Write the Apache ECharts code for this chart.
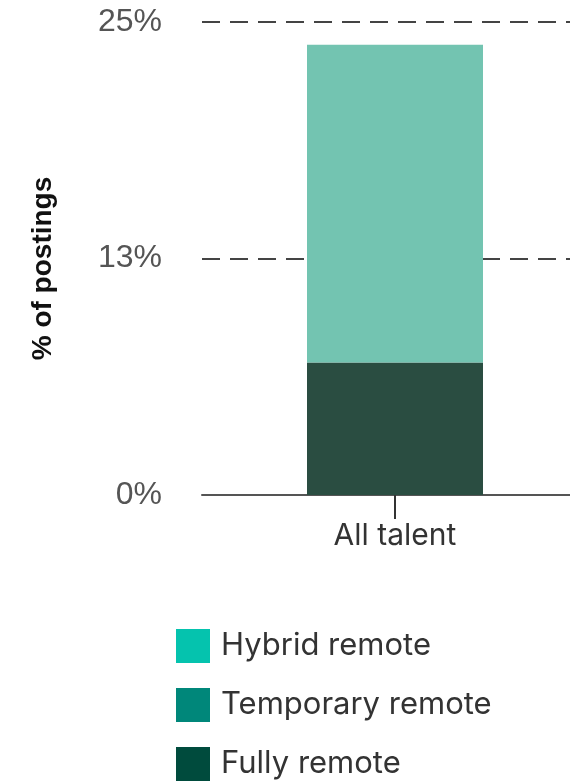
<!DOCTYPE html>
<html>
<head>
<meta charset="utf-8">
<script src="https://cdn.jsdelivr.net/npm/echarts@6/dist/echarts.min.js"></script>
<style>
  html, body { margin: 0; padding: 0; background: #fff; }
  #chart { width: 570px; height: 784px; }
</style>
</head>
<body>
<div id="chart"></div>
<script>
const categories = ['All talent'];
const seriesNames = ['Hybrid remote', 'Temporary remote', 'Fully remote'];
const fullyRemote = [7.0];
const temporaryRemote = [0];
const hybridRemote = [16.8];
const yTicks = [0, 12.5, 25];

const barColors = {
  'Hybrid remote': '#73c4b1',
  'Temporary remote': '#00877a',
  'Fully remote': '#2a4d41'
};
const legendColors = {
  'Hybrid remote': '#05c3ae',
  'Temporary remote': '#00877a',
  'Fully remote': '#004b3d'
};

const chart = echarts.init(document.getElementById('chart'));

function barSeries(name, data) {
  return {
    name: name,
    type: 'bar',
    stack: 'total',
    barWidth: 176,
    itemStyle: { color: barColors[name] },
    data: data
  };
}

chart.setOption({
  animation: false,
  grid: {
    left: 202,
    right: -18,
    top: 22,
    bottom: 784 - 495,
    outerBoundsMode: 'none',
    containLabel: false
  },
  legend: {
    orient: 'vertical',
    left: 176,
    top: 629,
    padding: 0,
    icon: 'rect',
    itemWidth: 34,
    itemHeight: 34,
    itemGap: 25,
    textStyle: {
      fontFamily: 'Inter',
      fontSize: 31,
      color: '#333',
      padding: [0, 0, 0, 6]
    },
    data: seriesNames.map(name => ({
      name: name,
      itemStyle: { color: legendColors[name] }
    }))
  },
  xAxis: {
    type: 'category',
    data: categories,
    axisLine: { lineStyle: { color: '#555', width: 2 } },
    axisTick: { show: true, alignWithLabel: true, length: 24, lineStyle: { color: '#333', width: 2 } },
    axisLabel: {
      fontFamily: 'Inter',
      fontSize: 30,
      color: '#333',
      margin: 26
    }
  },
  yAxis: {
    type: 'value',
    min: yTicks[0],
    max: yTicks[yTicks.length - 1],
    interval: yTicks[1] - yTicks[0],
    name: '% of postings',
    nameLocation: 'middle',
    nameGap: 145,
    nameTextStyle: {
      fontFamily: 'Liberation Sans',
      fontWeight: 'bold',
      fontSize: 28,
      color: '#111',
      padding: [0, 20, 0, 0]
    },
    axisLine: { show: false },
    axisTick: { show: false },
    axisLabel: {
      fontFamily: 'Liberation Sans',
      fontSize: 32,
      color: '#555',
      margin: 40,
      formatter: v => Math.round(v) + '%'
    },
    splitLine: {
      show: true,
      lineStyle: { color: '#444', width: 2, type: [18, 10] }
    }
  },
  series: [
    barSeries('Fully remote', fullyRemote),
    barSeries('Temporary remote', temporaryRemote),
    barSeries('Hybrid remote', hybridRemote)
  ]
});
</script>
</body>
</html>
